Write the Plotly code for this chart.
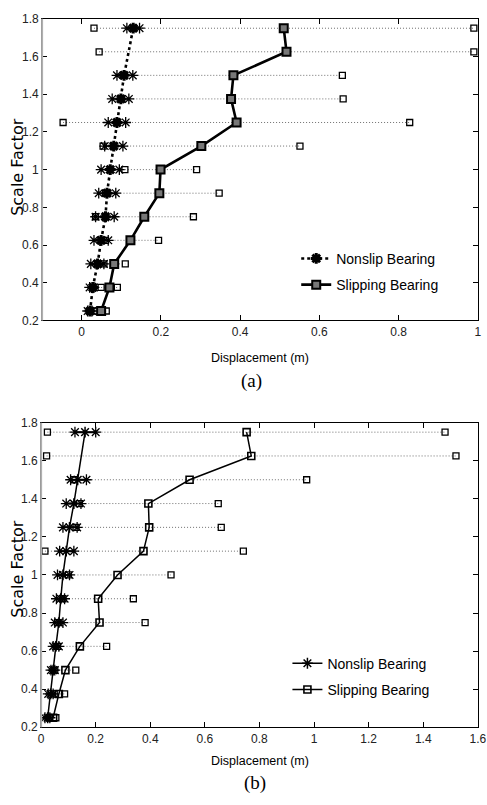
import plotly.graph_objects as go

# ---------------- data ----------------
levels = [0.25, 0.375, 0.5, 0.625, 0.75, 0.875, 1.0, 1.125, 1.25, 1.375, 1.5, 1.625, 1.75]

# panel (a)
nonslip_min_a = [0.015, 0.020, 0.023, 0.031, 0.035, 0.043, 0.049, 0.058, 0.067, 0.077, 0.089, None, 0.114]
nonslip_mean_a = [0.021, 0.028, 0.040, 0.049, 0.060, 0.064, 0.072, 0.081, 0.089, 0.099, 0.107, None, 0.130]
nonslip_max_a = [0.026, 0.031, 0.056, 0.067, 0.082, 0.086, 0.095, 0.104, 0.111, 0.119, 0.129, None, 0.146]
slip_min_a = [0.037, 0.049, 0.056, 0.060, 0.035, 0.060, 0.109, 0.054, -0.047, 0.100, 0.105, 0.044, 0.031]
slip_mean_a = [0.049, 0.070, 0.082, 0.123, 0.158, 0.196, 0.199, 0.302, 0.391, 0.377, 0.383, 0.517, 0.510]
slip_max_a = [0.062, 0.090, 0.110, 0.194, 0.282, 0.347, 0.290, 0.551, 0.828, 0.660, 0.658, 0.990, 0.990]

# panel (b)
nonslip_min_b = [0.014, 0.026, 0.036, 0.044, 0.050, 0.056, 0.060, 0.068, 0.080, 0.092, 0.108, None, 0.124]
nonslip_mean_b = [0.024, 0.035, 0.044, 0.054, 0.065, 0.072, 0.080, 0.092, 0.104, 0.120, 0.134, None, 0.161]
nonslip_max_b = [0.032, 0.044, 0.050, 0.065, 0.080, 0.086, 0.104, 0.120, 0.132, 0.146, 0.166, None, 0.200]
slip_min_b = [0.030, 0.048, 0.050, 0.060, 0.060, 0.080, 0.100, 0.014, 0.128, 0.140, 0.120, 0.020, 0.023]
slip_mean_b = [0.044, 0.065, 0.089, 0.142, 0.214, 0.209, 0.280, 0.375, 0.396, 0.393, 0.544, 0.770, 0.753]
slip_max_b = [0.054, 0.086, 0.127, 0.240, 0.381, 0.338, 0.476, 0.741, 0.660, 0.649, 0.973, 1.520, 1.480]

x_ticks_a = [0, 0.2, 0.4, 0.6, 0.8, 1]
x_ticks_b = [0, 0.2, 0.4, 0.6, 0.8, 1, 1.2, 1.4, 1.6]
y_ticks = [0.2, 0.4, 0.6, 0.8, 1, 1.2, 1.4, 1.6, 1.8]
series_names = ["Nonslip Bearing", "Slipping Bearing"]

W, H = 487, 805
NARROW = "'Liberation Sans Narrow', 'Arial Narrow', 'Liberation Sans', Arial"


def segs(lo, hi, ys):
    xs, yy = [], []
    for a, b, y in zip(lo, hi, ys):
        if a is None or b is None:
            continue
        xs += [a, b, None]
        yy += [y, y, None]
    return xs, yy


fig = go.Figure()


def add_panel(xa, ya, legend, nmin, nmean, nmax, smin, smean, smax, style):
    sx, sy = segs(smin, smax, levels)
    fig.add_trace(go.Scatter(x=sx, y=sy, xaxis=xa, yaxis=ya, mode="lines+markers",
                             line=dict(color="#6f6f6f", width=1, dash="1px,2px"),
                             marker=dict(symbol="square-open", size=6, color="black",
                                         line=dict(width=1.3, color="black")),
                             showlegend=False, hoverinfo="skip"))
    nx, ny = segs(nmin, nmax, levels)
    fig.add_trace(go.Scatter(x=nx, y=ny, xaxis=xa, yaxis=ya, mode="lines+markers",
                             line=dict(color="black", width=1.5 if style == "a" else 2),
                             marker=dict(symbol="asterisk-open", size=9, color="black",
                                         line=dict(width=1.3, color="black")),
                             showlegend=False, hoverinfo="skip"))
    if style == "a":
        fig.add_trace(go.Scatter(x=nmean, y=levels, xaxis=xa, yaxis=ya, mode="lines+markers",
                                 name=series_names[0], legend=legend, legendgroup=legend + "n",
                                 connectgaps=True,
                                 line=dict(color="black", width=2.6, dash="dot"),
                                 marker=dict(symbol="asterisk-open", size=9, color="black",
                                             line=dict(width=3, color="black"))))
        fig.add_trace(go.Scatter(x=smean, y=levels, xaxis=xa, yaxis=ya, mode="lines+markers",
                                 name=series_names[1], legend=legend, legendgroup=legend + "s",
                                 line=dict(color="black", width=2.6),
                                 marker=dict(symbol="square", size=8, color="#777777",
                                             line=dict(width=2, color="black"))))
    else:
        fig.add_trace(go.Scatter(x=nmean, y=levels, xaxis=xa, yaxis=ya, mode="lines+markers",
                                 name=series_names[0], legend=legend, legendgroup=legend + "n",
                                 connectgaps=True,
                                 line=dict(color="black", width=1.5),
                                 marker=dict(symbol="asterisk-open", size=9, color="black",
                                             line=dict(width=1.5, color="black"))))
        fig.add_trace(go.Scatter(x=smean, y=levels, xaxis=xa, yaxis=ya, mode="lines+markers",
                                 name=series_names[1], legend=legend, legendgroup=legend + "s",
                                 line=dict(color="black", width=1.5),
                                 marker=dict(symbol="square-open", size=7, color="black",
                                             line=dict(width=1.6, color="black"))))


add_panel("x", "y", "legend", nonslip_min_a, nonslip_mean_a, nonslip_max_a,
          slip_min_a, slip_mean_a, slip_max_a, "a")
add_panel("x2", "y2", "legend2", nonslip_min_b, nonslip_mean_b, nonslip_max_b,
          slip_min_b, slip_mean_b, slip_max_b, "b")

axis_common = dict(showline=True, linecolor="black", linewidth=1, mirror="ticks",
                   ticks="inside", ticklen=5, tickcolor="black", showgrid=False,
                   zeroline=False, ticklabeloverflow="allow",
                   tickfont=dict(family=NARROW, size=12, color="#222"))

dom_a_x = [40 / W, 486 / W]
dom_a_y = [1 - 319 / H, 1 - 12 / H]
dom_b_x = [39 / W, 486 / W]
dom_b_y = [1 - 733 / H, 1 - 423 / H]

legend_common = dict(xanchor="left", yanchor="top", bgcolor="rgba(0,0,0,0)", itemwidth=30,
                     traceorder="grouped", tracegroupgap=5,
                     font=dict(family=NARROW, size=14, color="black"))

fig.update_layout(
    width=W, height=H, margin=dict(l=0, r=0, t=0, b=0),
    paper_bgcolor="white", plot_bgcolor="white",
    xaxis=dict(domain=dom_a_x, anchor="y", range=[-0.1, 1.0005], tickvals=x_ticks_a, **axis_common),
    yaxis=dict(domain=dom_a_y, anchor="x", range=[0.2, 1.8], tickvals=y_ticks, **axis_common),
    xaxis2=dict(domain=dom_b_x, anchor="y2", range=[0, 1.6008], tickvals=x_ticks_b, **axis_common),
    yaxis2=dict(domain=dom_b_y, anchor="x2", range=[0.2, 1.8], tickvals=y_ticks, **axis_common),
    legend=dict(x=300 / W, y=1 - 240 / H, **legend_common),
    legend2=dict(x=291 / W, y=1 - 652 / H, **legend_common),
    showlegend=True,
)

annos = [
    dict(text="Displacement (m)", x=263 / W, y=1 - 357 / H, font=dict(family=NARROW, size=12.5)),
    dict(text="(a)", x=254 / W, y=1 - 381 / H, font=dict(family="'Liberation Serif', 'Times New Roman'", size=19)),
    dict(text="Displacement (m)", x=263 / W, y=1 - 767 / H, font=dict(family=NARROW, size=12.5)),
    dict(text="(b)", x=258 / W, y=1 - 790 / H, font=dict(family="'Liberation Serif', 'Times New Roman'", size=19)),
    dict(text="Scale Factor", x=14 / W, y=1 - 163 / H, textangle=-90,
         font=dict(family="'DejaVu Sans', 'Liberation Sans'", size=16)),
    dict(text="Scale Factor", x=14 / W, y=1 - 572 / H, textangle=-90,
         font=dict(family="'DejaVu Sans', 'Liberation Sans'", size=16)),
]
for a in annos:
    a.update(xref="paper", yref="paper", showarrow=False, xanchor="center", yanchor="middle")
    a["font"]["color"] = "black"
fig.update_layout(annotations=annos)

for dx, dy in [(dom_a_x, dom_a_y), (dom_b_x, dom_b_y)]:
    fig.add_shape(type="line", xref="paper", yref="paper", x0=dx[0], x1=dx[0], y0=dy[0], y1=dy[1],
                  line=dict(color="#b0b0b0", width=2))

fig.write_html("out.html", config={"displayModeBar": False},
               post_script="document.body.style.margin='0';document.body.style.overflow='hidden';")
